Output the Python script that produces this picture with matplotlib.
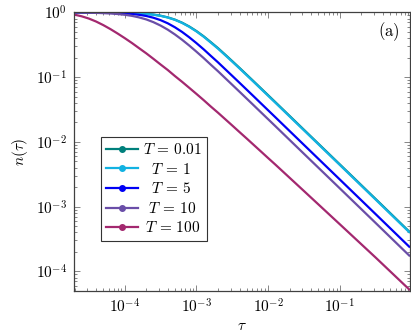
import numpy as np
import matplotlib
matplotlib.use("Agg")
import matplotlib.pyplot as plt
from matplotlib.lines import Line2D
from matplotlib.ticker import FuncFormatter, LogLocator, NullFormatter

plt.rcParams['mathtext.fontset'] = 'cm'
plt.rcParams['font.family'] = ['DejaVu Serif']

tau = [2.0e-5, 2.51e-5, 3.16e-5, 3.98e-5, 5.01e-5, 6.31e-5, 7.94e-5, 1.0e-4,
       1.26e-4, 1.58e-4, 2.0e-4, 2.51e-4, 3.16e-4, 3.98e-4, 5.01e-4, 6.31e-4,
       7.94e-4, 1.0e-3, 1.26e-3, 1.58e-3, 2.0e-3, 2.51e-3, 3.16e-3, 3.98e-3,
       5.01e-3, 6.31e-3, 7.94e-3, 1.0e-2, 1.26e-2, 3.16e-2, 0.1, 0.316, 0.95]

n_T001 = [0.9995, 0.9991, 0.9987, 0.9979, 0.9968, 0.9949, 0.9919, 0.9872,
          0.9799, 0.9688, 0.9516, 0.9263, 0.8895, 0.8394, 0.7740, 0.6946,
          0.6063, 0.5153, 0.4278, 0.3487, 0.2805, 0.2233, 0.1767, 0.1392,
          0.1093, 0.08572, 0.06714, 0.05254, 0.04109, 0.01536, 0.004481,
          0.001308, 0.0004006]
n_T1 = [0.9995, 0.9991, 0.9986, 0.9978, 0.9966, 0.9946, 0.9915, 0.9866,
        0.9791, 0.9674, 0.9496, 0.9235, 0.8856, 0.8342, 0.7677, 0.6876,
        0.5989, 0.5080, 0.4211, 0.3428, 0.2754, 0.2191, 0.1733, 0.1365,
        0.1072, 0.08405, 0.06582, 0.05151, 0.04028, 0.01506, 0.004393,
        0.001282, 0.0003927]
n_T5 = [0.9986, 0.9977, 0.9964, 0.9944, 0.9911, 0.9860, 0.9781, 0.9659,
        0.9475, 0.9202, 0.8812, 0.8283, 0.7601, 0.6791, 0.5897, 0.4992,
        0.4128, 0.3355, 0.2693, 0.2141, 0.1692, 0.1332, 0.1046, 0.08201,
        0.06423, 0.05027, 0.03931, 0.03074, 0.02403, 0.008974, 0.002619,
        0.0007638, 0.0002342]
n_T10 = [0.9951, 0.9926, 0.9889, 0.9834, 0.9751, 0.9629, 0.9453, 0.9201,
         0.8853, 0.8386, 0.7790, 0.7077, 0.6268, 0.5416, 0.4568, 0.3780,
         0.3078, 0.2474, 0.1973, 0.1563, 0.1233, 0.09696, 0.07610, 0.05965,
         0.04672, 0.03656, 0.02860, 0.02238, 0.01750, 0.006539, 0.001910,
         0.0005578, 0.0001710]
n_T100 = [0.923, 0.871, 0.804, 0.724, 0.638, 0.553, 0.473, 0.401,
          0.337, 0.281, 0.233, 0.192, 0.157, 0.129, 0.104, 0.0847,
          0.0684, 0.0551, 0.0442, 0.0353, 0.0282, 0.0225, 0.0179, 0.0142,
          0.0113, 0.00895, 0.00710, 0.00562, 0.00446, 0.00174, 0.000533,
          0.000163, 0.0000512]

labels = [r'$T\,=\,0.01$', r'$\enspace\,T\,=\,1$', r'$\enspace\,T\,=\,5$',
          r'$\;\,T\,=\,10$', r'$\,T\,=\,100$']
colors = ['#00807c', '#12b2e2', '#0000f5', '#6a4ea8', '#a3286f']
series = [n_T001, n_T1, n_T5, n_T10, n_T100]

fig = plt.figure(figsize=(4.11, 3.36), dpi=100)
ax = fig.add_axes([0.180, 0.135, 0.8176, 0.828])

for n, c in zip(series, colors):
    ax.plot(tau, n, color=c, lw=1.6, solid_capstyle='butt')

ax.set_xscale('log')
ax.set_yscale('log')
ax.set_xlim(1.96e-5, 0.95)
ax.set_ylim(5.04e-5, 1)

fmt = FuncFormatter(lambda v, p: r'$10^{%d}$' % round(np.log10(v)))
ax.xaxis.set_major_formatter(fmt)
ax.yaxis.set_major_formatter(fmt)
ax.xaxis.set_minor_locator(LogLocator(base=10, subs=np.arange(2, 10), numticks=20))
ax.yaxis.set_minor_locator(LogLocator(base=10, subs=np.arange(2, 10), numticks=20))
ax.xaxis.set_minor_formatter(NullFormatter())
ax.yaxis.set_minor_formatter(NullFormatter())
ax.tick_params(which='both', direction='in', top=True, right=True,
               labelsize=11, color='0.45', width=0.6)
ax.tick_params(which='major', length=4, pad=5)
ax.tick_params(which='minor', length=2)
for s in ax.spines.values():
    s.set_color('0.25')
    s.set_linewidth(0.9)

ax.set_xlabel(r'$\tau$', fontsize=11, labelpad=2)
ax.set_ylabel(r'$n(\tau)$', fontsize=11, labelpad=4)
ax.text(0.968, 0.972, r'$\mathrm{(a)}$', transform=ax.transAxes,
        ha='right', va='top', fontsize=12)

handles = [Line2D([], [], color=c, lw=1.6, marker='o', markersize=4) for c in colors]
leg = ax.legend(handles, labels, loc='upper left', bbox_to_anchor=(0.08, 0.553),
                fontsize=11, frameon=True, fancybox=False, framealpha=1,
                edgecolor='0.2', handlelength=2.1, handletextpad=0.3,
                labelspacing=0.3, borderpad=0.35, borderaxespad=0)
leg.get_frame().set_linewidth(0.8)

fig.savefig('out.png', dpi=100)
